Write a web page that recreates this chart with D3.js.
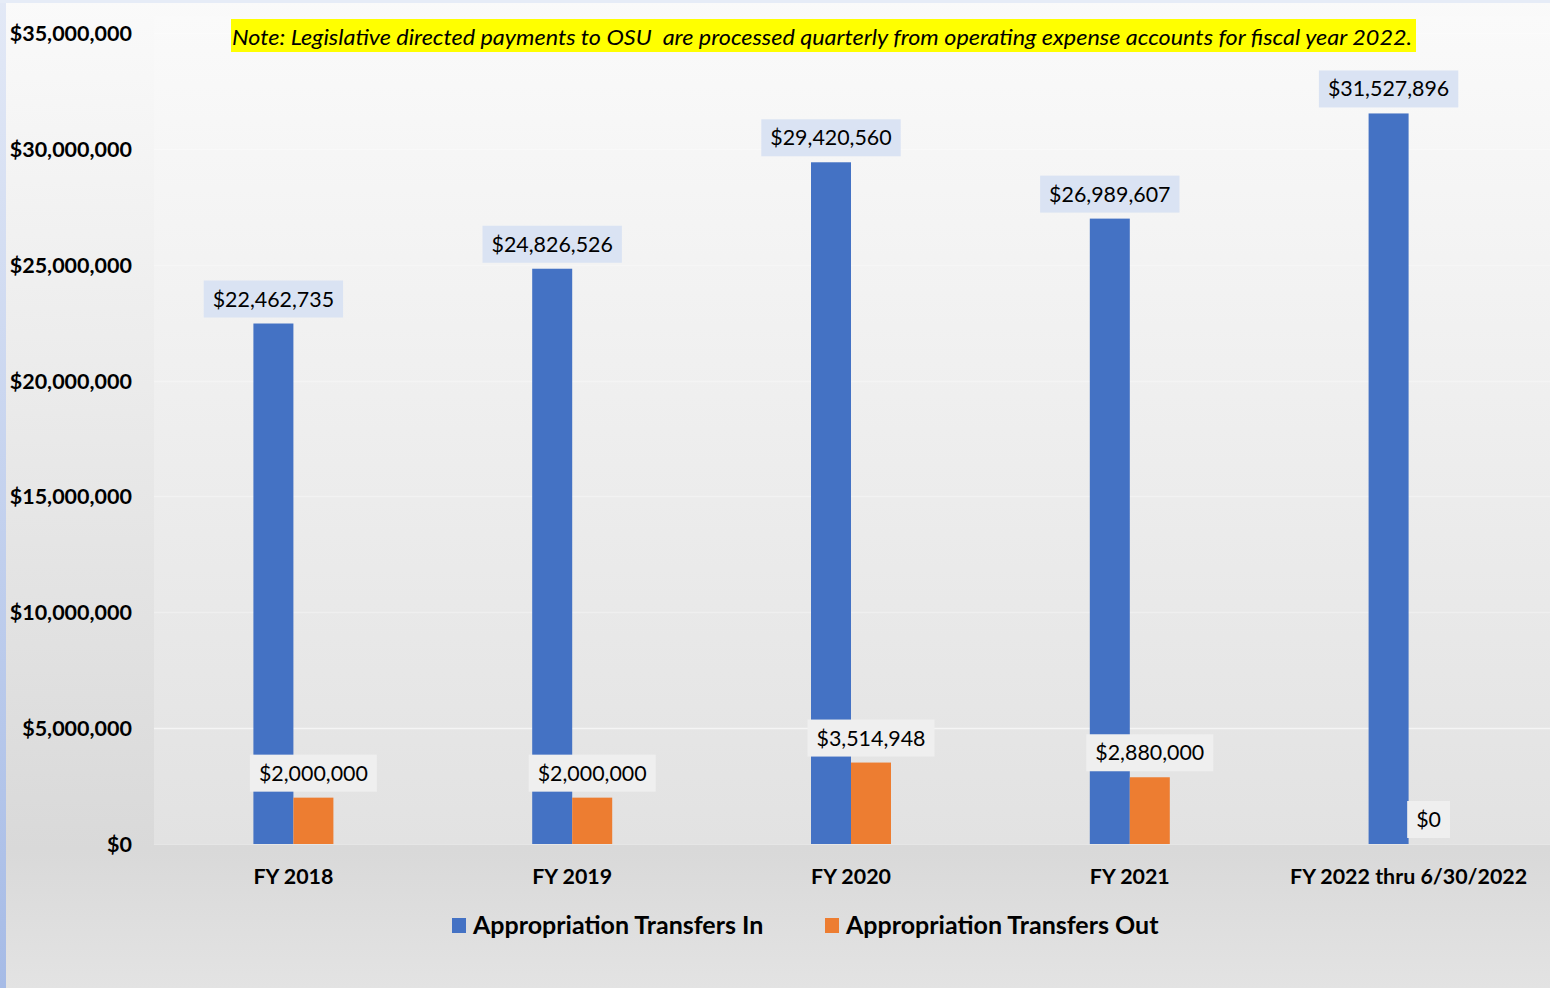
<!DOCTYPE html>
<html>
<head>
<meta charset="utf-8">
<script src="https://cdn.jsdelivr.net/npm/d3@7"></script>
<style>
  body { margin: 0; padding: 0; background: #fff; }
  svg { display: block; font-family: Lato, "Open Sans", sans-serif; }
  .tick-label { font-weight: bold; font-size: 21.5px; fill: #000; }
  .cat-label { font-weight: bold; font-size: 21.4px; fill: #000; }
  .data-label { font-size: 21.4px; fill: #000; }
  .legend-label { font-weight: bold; font-size: 25px; fill: #000; }
  .note { white-space: pre; }
</style>
</head>
<body>
<svg id="chart" width="1550" height="988"></svg>
<script>
var categories = ["FY 2018", "FY 2019", "FY 2020", "FY 2021", "FY 2022 thru 6/30/2022"];
var seriesNames = ["Appropriation Transfers In", "Appropriation Transfers Out"];
var transfersIn = [22462735, 24826526, 29420560, 26989607, 31527896];
var transfersOut = [2000000, 2000000, 3514948, 2880000, 0];
var yTicks = [0, 5000000, 10000000, 15000000, 20000000, 25000000, 30000000, 35000000];
var noteText = "Note: Legislative directed payments to OSU  are processed quarterly from operating expense accounts for fiscal year 2022.";

var COLORS = ["#4472c4", "#ed7d31"];
var LABEL_BG = ["#dae3f3", "#efefef"];
var BAR_W = 40;

var svg = d3.select("#chart");
var W = 1550, H = 988;

// gradients
var defs = svg.append("defs");
var bgGrad = defs.append("linearGradient").attr("id", "bg").attr("x1", 0).attr("y1", 0).attr("x2", 0).attr("y2", 1);
bgGrad.append("stop").attr("offset", "0%").attr("stop-color", "#fafafa");
bgGrad.append("stop").attr("offset", "86%").attr("stop-color", "#d9d9d9");
bgGrad.append("stop").attr("offset", "100%").attr("stop-color", "#e3e3e3");

var plotGrad = defs.append("linearGradient").attr("id", "plotbg").attr("x1", 0).attr("y1", 0).attr("x2", 0).attr("y2", 1);
plotGrad.append("stop").attr("offset", "0%").attr("stop-color", "#fafafa");
plotGrad.append("stop").attr("offset", "100%").attr("stop-color", "#e2e2e2");

var edgeGrad = defs.append("linearGradient").attr("id", "edge").attr("x1", 0).attr("y1", 0).attr("x2", 0).attr("y2", 1);
edgeGrad.append("stop").attr("offset", "0%").attr("stop-color", "#e3e9f6");
edgeGrad.append("stop").attr("offset", "100%").attr("stop-color", "#a6bbe6");

svg.append("rect").attr("width", W).attr("height", H).attr("fill", "url(#bg)");

// scales
var y = d3.scaleLinear().domain([0, 35000000]).range([844, 33]);
var x0 = d3.scaleBand().domain(categories).range([154, 1548]).padding(0);
var x1 = d3.scaleBand().domain(seriesNames)
	.range([x0.bandwidth() / 2 - BAR_W, x0.bandwidth() / 2 + BAR_W]);

// plot area
svg.append("rect")
	.attr("x", 154).attr("y", 16)
	.attr("width", W - 154).attr("height", 844 - 16)
	.attr("fill", "url(#plotbg)");

// gridlines (very faint)
svg.append("g").selectAll("line")
	.data(yTicks.slice(1))
	.enter()
	.append("line")
	.attr("x1", 154).attr("x2", W)
	.attr("y1", function(d) { return Math.round(y(d)) + 0.5; })
	.attr("y2", function(d) { return Math.round(y(d)) + 0.5; })
	.attr("stroke", "#ffffff")
	.attr("stroke-opacity", function(d) { return d === 5000000 ? 0.6 : 0.3; })
	.attr("stroke-width", 1.5);

// y axis labels (no line)
var yAxis = d3.axisLeft(y).tickValues(yTicks).tickSize(0).tickPadding(0)
	.tickFormat(function(d) { return "$" + d3.format(",")(d); });
var yg = svg.append("g").attr("transform", "translate(132,0)").call(yAxis)
	.attr("font-family", null).attr("font-size", null);
yg.select(".domain").remove();
yg.selectAll("text").attr("class", "tick-label").attr("dy", "0.35em");

// x axis labels
var xAxis = d3.axisBottom(x0).tickSize(0).tickPadding(0);
var xg = svg.append("g").attr("transform", "translate(0,876)").call(xAxis)
	.attr("font-family", null).attr("font-size", null);
xg.select(".domain").remove();
xg.selectAll("text").attr("class", "cat-label").attr("dy", "0.35em");

// baseline
svg.append("line")
	.attr("x1", 154).attr("x2", W)
	.attr("y1", 844.5).attr("y2", 844.5)
	.attr("stroke", "#e6e6e6").attr("stroke-width", 1);

// bars
var rows = categories.map(function(c, i) {
	return {cat: c, values: [transfersIn[i], transfersOut[i]]};
});

var groups = svg.append("g").selectAll("g.cat")
	.data(rows)
	.enter()
	.append("g")
	.attr("class", "cat")
	.attr("transform", function(d) { return "translate(" + x0(d.cat) + ",0)"; });

groups.selectAll("rect")
	.data(function(d) { return d.values.map(function(v, j) { return {s: seriesNames[j], j: j, v: v}; }); })
	.enter()
	.append("rect")
	.attr("x", function(d) { return x1(d.s); })
	.attr("width", x1.bandwidth())
	.attr("y", function(d) { return y(d.v); })
	.attr("height", function(d) { return y(0) - y(d.v); })
	.attr("fill", function(d) { return COLORS[d.j]; });

// data labels with box
groups.each(function(row) {
	var g = d3.select(this);
	row.values.forEach(function(v, j) {
		var cx = x1(seriesNames[j]) + x1.bandwidth() / 2;
		var bottom = y(v) - 6;
		var lg = g.append("g");
		var box = lg.append("rect").attr("fill", LABEL_BG[j]);
		var t = lg.append("text")
			.attr("class", "data-label")
			.attr("x", cx)
			.attr("y", bottom - 11)
			.attr("text-anchor", "middle")
			.text("$" + d3.format(",")(v));
		var w = t.node().getComputedTextLength();
		box.attr("x", cx - w / 2 - 9).attr("width", w + 18)
			.attr("y", bottom - 37).attr("height", 37);
	});
});

// note
var note = svg.append("g");
note.append("rect").attr("fill", "#ffff00")
	.attr("x", 231).attr("y", 19).attr("width", 1185).attr("height", 33);
note.append("text")
	.attr("class", "note")
	.attr("x", 232).attr("y", 45)
	.attr("font-size", 22)
	.attr("font-style", "italic")
	.attr("fill", "#000")
	.attr("textLength", 1180)
	.attr("lengthAdjust", "spacingAndGlyphs")
	.text(noteText);

// legend
var legendX = [452, 825];
var legend = svg.append("g").selectAll("g")
	.data(seriesNames)
	.enter()
	.append("g")
	.attr("transform", function(d, i) { return "translate(" + legendX[i] + ",918)"; });
legend.append("rect")
	.attr("width", 14).attr("height", 15)
	.attr("fill", function(d, i) { return COLORS[i]; });
legend.append("text")
	.attr("class", "legend-label")
	.attr("x", 21).attr("y", 15.5)
	.text(function(d) { return d; });

// left and top edges
svg.append("rect").attr("x", 0).attr("y", 0).attr("width", 6).attr("height", H).attr("fill", "url(#edge)");
svg.append("rect").attr("x", 0).attr("y", 0).attr("width", W).attr("height", 3).attr("fill", "#e6ecf7");
</script>
</body>
</html>
